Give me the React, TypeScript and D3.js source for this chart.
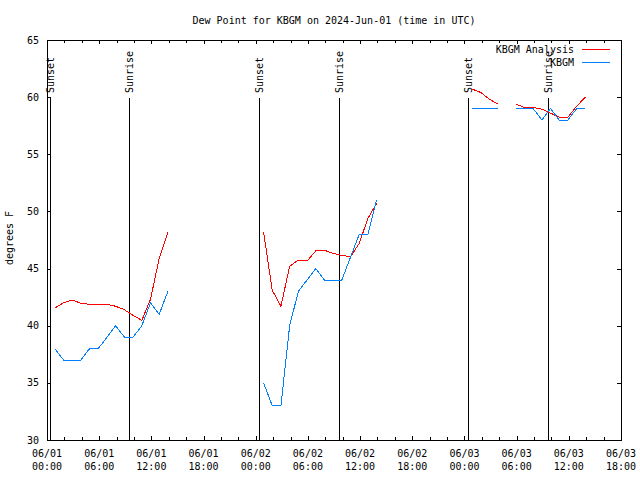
import React from "react";
import * as d3 from "d3";

const W = 640;
const H = 480;
const PLOT = { left: 47, right: 621, top: 40, bottom: 440 };

const titleText = "Dew Point for KBGM on 2024-Jun-01 (time in UTC)";
const yLabel = "degrees F";

const xTickHours = [0, 6, 12, 18, 24, 30, 36, 42, 48, 54, 60, 66];
const xTickDates = ["06/01", "06/01", "06/01", "06/01", "06/02", "06/02", "06/02", "06/02", "06/03", "06/03", "06/03", "06/03"];
const xTickTimes = ["00:00", "06:00", "12:00", "18:00", "00:00", "06:00", "12:00", "18:00", "00:00", "06:00", "12:00", "18:00"];
const xMinorHours = [2, 4, 8, 10, 14, 16, 20, 22, 26, 28, 32, 34, 38, 40, 44, 46, 50, 52, 56, 58, 62, 64];
const yTicks = [30, 35, 40, 45, 50, 55, 60, 65];

const sunsetHours = [0.35, 24.41, 48.44];
const sunriseHours = [9.46, 33.54, 57.64];

// hours since 2024-06-01 00:00 UTC; null values break the line
const obsHours = [
  0.9, 1.9, 2.9, 3.9, 4.9, 5.9, 6.9, 7.9, 8.9, 9.9, 10.9, 11.9, 12.9, 13.9, 14.9,
  24.9, 25.9, 26.9, 27.9, 28.9, 29.9, 30.9, 31.9, 32.9, 33.9, 34.9, 35.9, 36.9, 37.9, 38.9,
  48.9, 49.9, 50.9, 51.9, 52.9,
  53.9, 54.9, 55.9, 56.9, 57.9, 58.9, 59.9, 60.9, 61.9,
];
const analysisDewpoint: (number | null)[] = [
  41.55, 42.0, 42.25, 41.96, 41.87, 41.87, 41.87, 41.7, 41.4, 40.9, 40.47, 42.3, 45.9, 48.2, null,
  48.2, 43.1, 41.7, 45.2, 45.75, 45.66, 46.54, 46.6, 46.33, 46.15, 46.04, 47.2, 49.4, 50.7, null,
  60.7, 60.4, 59.8, 59.37, null,
  59.4, 59.1, 59.1, 58.95, 58.6, 58.25, 58.25, 59.2, 60.0,
];
const kbgmDewpoint: (number | null)[] = [
  38, 37, 37, 37, 38, 38, 39, 40, 39, 39, 40, 42, 41, 43, null,
  35, 33, 33, 40, 43, 44, 45, 44, 44, 44, 46, 48, 48, 51, null,
  59, 59, 59, 59, null,
  59, 59, 59, 58, 59, 58, 58, 59, 59,
];

const seriesNames = ["KBGM Analysis", "KBGM"];
const seriesColors = ["#ff0000", "#0080ff"];

const FONT = "'DejaVu Sans Mono', 'Liberation Mono', monospace";

export default function App() {
  const x = d3.scaleLinear().domain([0, 66]).range([PLOT.left, PLOT.right]);
  const y = d3.scaleLinear().domain([30, 65]).range([PLOT.bottom, PLOT.top]);
  const px = (v: number) => Math.round(v) + 0.5;

  const mkLine = (vals: (number | null)[]) =>
    d3
      .line<number>()
      .defined((_, i) => vals[i] != null)
      .x((h) => x(h))
      .y((_, i) => y(vals[i] as number))(obsHours) || "";

  const series = [analysisDewpoint, kbgmDewpoint];

  const events = [
    ...sunsetHours.map((h) => ({ h, label: "Sunset" })),
    ...sunriseHours.map((h) => ({ h, label: "Sunrise" })),
  ];

  return (
    <svg
      width={W}
      height={H}
      style={{ position: "fixed", left: 0, top: 0, background: "#fff" }}
      fontFamily={FONT}
      fontSize={10}
    >
      <rect x={0} y={0} width={W} height={H} fill="#fff" />
      <text x={(PLOT.left + PLOT.right) / 2} y={20} textAnchor="middle" dominantBaseline="central" fill="#000">
        {titleText}
      </text>

      {/* y ticks & labels */}
      {yTicks.map((t) => (
        <g key={"y" + t} shapeRendering="crispEdges">
          <line x1={PLOT.left} x2={PLOT.left + 4} y1={px(y(t))} y2={px(y(t))} stroke="#000" />
          <line x1={PLOT.right - 4} x2={PLOT.right} y1={px(y(t))} y2={px(y(t))} stroke="#000" />
          <text x={39} y={y(t)} textAnchor="end" dominantBaseline="central" fill="#000">
            {t}
          </text>
        </g>
      ))}

      {/* x ticks */}
      {xTickHours.map((h, i) => (
        <g key={"x" + h} shapeRendering="crispEdges">
          <line x1={px(x(h))} x2={px(x(h))} y1={PLOT.bottom} y2={PLOT.bottom - 4} stroke="#000" />
          <line x1={px(x(h))} x2={px(x(h))} y1={PLOT.top} y2={PLOT.top + 4} stroke="#000" />
          <text x={x(h)} y={453} textAnchor="middle" dominantBaseline="central" fill="#000">
            {xTickDates[i]}
          </text>
          <text x={x(h)} y={466} textAnchor="middle" dominantBaseline="central" fill="#000">
            {xTickTimes[i]}
          </text>
        </g>
      ))}
      {xMinorHours.map((h) => (
        <g key={"m" + h} shapeRendering="crispEdges">
          <line x1={px(x(h))} x2={px(x(h))} y1={PLOT.bottom} y2={PLOT.bottom - 3} stroke="#000" />
          <line x1={px(x(h))} x2={px(x(h))} y1={PLOT.top} y2={PLOT.top + 3} stroke="#000" />
        </g>
      ))}

      {/* sunrise / sunset markers */}
      {events.map((e, i) => (
        <g key={"e" + i}>
          <line
            x1={px(x(e.h))}
            x2={px(x(e.h))}
            y1={98}
            y2={PLOT.bottom}
            stroke="#000"
            shapeRendering="crispEdges"
          />
          <text
            transform={`translate(${x(e.h) + 0.5},93) rotate(-90)`}
            dominantBaseline="central"
            fill="#000"
          >
            {e.label}
          </text>
        </g>
      ))}

      {/* data */}
      {series.map((vals, i) => (
        <path
          key={"s" + i}
          d={mkLine(vals)}
          fill="none"
          stroke={seriesColors[i]}
          strokeWidth={1}
          shapeRendering="crispEdges"
        />
      ))}

      {/* legend */}
      {seriesNames.map((n, i) => (
        <g key={"l" + i}>
          <text x={574} y={49.5 + i * 13} textAnchor="end" dominantBaseline="central" fill="#000">
            {n}
          </text>
          <line
            x1={582}
            x2={610}
            y1={49.5 + i * 13}
            y2={49.5 + i * 13}
            stroke={seriesColors[i]}
            shapeRendering="crispEdges"
          />
        </g>
      ))}

      {/* frame */}
      <rect
        x={PLOT.left + 0.5}
        y={PLOT.top + 0.5}
        width={PLOT.right - PLOT.left}
        height={PLOT.bottom - PLOT.top}
        fill="none"
        stroke="#000"
        shapeRendering="crispEdges"
      />

      <text
        transform={`translate(9,238) rotate(-90)`}
        textAnchor="middle"
        dominantBaseline="central"
        fill="#000"
      >
        {yLabel}
      </text>
    </svg>
  );
}
